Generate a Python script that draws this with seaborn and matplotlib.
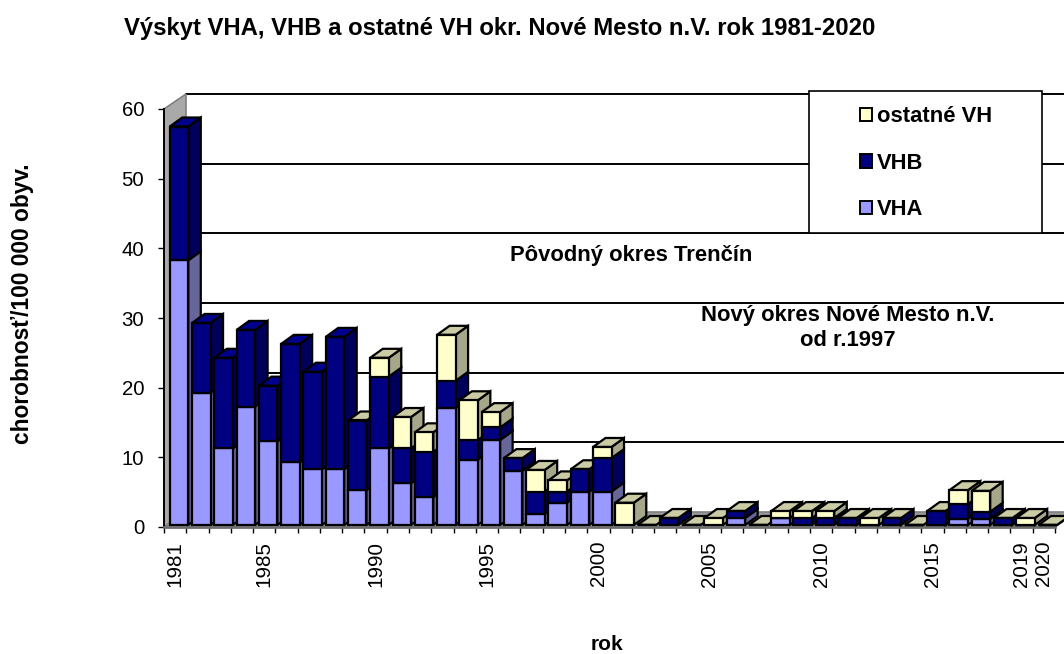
import numpy as np
import matplotlib
matplotlib.use("Agg")
import matplotlib.pyplot as plt
import seaborn as sns
from matplotlib.patches import Polygon, Rectangle

years = list(range(1981, 2021))
vha = [38, 19, 11, 17, 12, 9, 8, 8, 5, 11, 6, 4, 16.8, 9.4, 12.2, 7.8, 1.6, 3.2, 4.8, 4.8,
       0, 0, 0, 0, 0, 1, 0, 1, 0, 0, 0, 0, 0, 0, 0, 0.9, 0.9, 0, 0, 0]
vhb = [19.2, 10, 13, 11, 8, 17, 14, 19, 10, 10.3, 5, 6.5, 3.9, 2.8, 1.8, 1.8, 3.2, 1.6, 3.2, 4.8,
       0, 0, 1, 0, 0, 1, 0, 0, 1, 1, 1, 0, 1, 0, 2, 2.1, 1, 1, 0, 0]
# nan = blank in the source table (top face stays navy)
ostatne = [np.nan] * 8 + [0, 2.7, 4.5, 2.8, 6.6, 5.7, 2.2, 0, 3.1, 1.6, 0, 1.6,
           3.2, 0, 0, 0, 1, 0, 0, 1, 1, 1, 0, 1, 0, 0, 0, 2, 3, 0, 1, 0]
tick_years = [1981, 1985, 1990, 1995, 2000, 2005, 2010, 2015, 2019, 2020]

front_colors = ["#9999FF", "#000080", "#FFFFCC"]
side_colors = ["#666699", "#00005A", "#A6A68A"]
top_navy = "#00008C"
top_khaki = "#CBCBA6"
names = ["VHA", "VHB", "ostatné VH"]

FONT = "Liberation Sans"
W, H = 1064, 654
X0, X1, Y0, Y60 = 164, 1055, 527, 109  # axes box in pixels

sns.set_theme(style="white")
plt.rcParams["font.family"] = [FONT, "DejaVu Sans"]

fig = plt.figure(figsize=(W / 100, H / 100), dpi=100)
ax = fig.add_axes([X0 / W, 1 - Y0 / H, (X1 - X0) / W, (Y0 - Y60) / H])

cat_px = (X1 - X0) / len(years)
val_px = (Y0 - Y60) / 60
wall_dx, wall_dy = 22 / cat_px, 15 / val_px
bar_dx, bar_dy = 12.5 / cat_px, 9 / val_px
shift_x, shift_y = 3.9 / cat_px, 2 / val_px

labels = [str(y) for y in years]
series = [np.array(vha, float), np.array(vhb, float), np.nan_to_num(np.array(ostatne, float))]
bottom = np.zeros(len(years))
for s, vals in enumerate(series):
    n_before = len(ax.patches)
    sns.barplot(x=labels, y=vals, bottom=bottom, color=front_colors[s], saturation=1,
                width=0.83, edgecolor="black", linewidth=1.6, ax=ax, zorder=5, clip_on=False)
    for i, p in enumerate(ax.patches[n_before:]):
        p.set_x(p.get_x() + shift_x)
        p.set_y(p.get_y() + shift_y)
        p.set_clip_on(False)
        p.set_zorder(10 + i + 0.5)
        x, y, w, h = p.get_x(), p.get_y(), p.get_width(), p.get_height()
        if h > 0:
            ax.add_patch(Polygon([(x + w, y), (x + w + bar_dx, y + bar_dy),
                                  (x + w + bar_dx, y + h + bar_dy), (x + w, y + h)],
                                 fc=side_colors[s], ec="black", lw=1.6, clip_on=False, zorder=10 + i + 0.2))
    bottom = bottom + vals

# top faces sit on the full stack
for i, total in enumerate(bottom):
    x = i - 0.83 / 2 + shift_x
    y = total + shift_y
    w = 0.83
    top = top_navy if np.isnan(ostatne[i]) else top_khaki
    ax.add_patch(Polygon([(x, y), (x + w, y), (x + w + bar_dx, y + bar_dy), (x + bar_dx, y + bar_dy)],
                         fc=top, ec="black", lw=1.6, clip_on=False, zorder=10 + i + 0.3))

ax.set_xlim(-0.5, len(years) - 0.5)
ax.set_ylim(0, 60)

# back wall grid, left wall, floor
left, right = -0.5, len(years) - 0.5
for v in range(10, 70, 10):
    ax.plot([left + wall_dx, right + wall_dx], [v + wall_dy, v + wall_dy], color="black", lw=1.4,
            clip_on=False, zorder=1)
ax.add_patch(Polygon([(left, 0), (left + wall_dx, wall_dy), (left + wall_dx, 60 + wall_dy), (left, 60)],
                     fc="#A9A9A9", ec="#808080", lw=1.2, clip_on=False, zorder=2))
ax.add_patch(Polygon([(left, 0), (right, 0), (right + wall_dx, wall_dy), (left + wall_dx, wall_dy)],
                     fc="#9A9A9A", ec="#808080", lw=1.2, clip_on=False, zorder=2))

ax.set_xticks(np.arange(len(years) + 1) - 0.5)
ax.set_xticklabels([])
ax.tick_params(axis="x", length=4, width=1, color="black", bottom=True)
for y in tick_years:
    ax.text(years.index(y), -2.0, str(y), rotation=90, ha="center", va="top", fontsize=14.9, color="black")
ax.set_yticks(range(0, 70, 10))
ax.tick_params(axis="y", length=4.3, width=1, color="black", left=True, labelsize=14.7, pad=10, labelcolor="black")
sns.despine(ax=ax, top=True, right=True)
ax.spines["left"].set_color("black")
ax.spines["left"].set_linewidth(1.4)
ax.spines["bottom"].set_color("#6E6E6E")
ax.spines["bottom"].set_linewidth(2)
ax.spines["bottom"].set_zorder(40)
ax.patch.set_alpha(0)
ax.grid(False)

fig.text(124 / W, 1 - 29 / H, "Výskyt VHA, VHB a ostatné VH okr. Nové Mesto n.V. rok 1981-2020",
         fontsize=17.2, fontweight="bold", va="center", ha="left", color="black")
fig.text(23 / W, 1 - 304 / H, "chorobnosť/100 000 obyv.", rotation=90, fontsize=16.4, fontweight="bold",
         va="center", ha="center", color="black")
fig.text(607 / W, 1 - 644 / H, "rok", fontsize=15, fontweight="bold", va="center", ha="center", color="black")
fig.text(631 / W, 1 - 256 / H, "Pôvodný okres Trenčín", fontsize=15.8, fontweight="bold", va="center",
         ha="center", color="black", zorder=60)
fig.text(848 / W, 1 - 328 / H, "Nový okres Nové Mesto n.V.\nod r.1997", fontsize=15.8, fontweight="bold",
         va="center", ha="center", color="black", zorder=60, linespacing=1.3)

# legend box
fig.add_artist(Rectangle((809 / W, 1 - 233 / H), 233 / W, 142 / H, transform=fig.transFigure,
                         fc="white", ec="black", lw=1.2, zorder=50))
handles = [Rectangle((0, 0), 1, 1, fc=front_colors[s], ec="black", lw=1.4) for s in (2, 1, 0)]
leg = fig.legend(handles, [names[2], names[1], names[0]], loc="upper left",
                 bbox_to_anchor=(855 / W, 1 - 101 / H), frameon=False, labelcolor="black",
                 prop={"family": FONT, "weight": "bold", "size": 15.8},
                 handlelength=0.55, handleheight=0.55, handletextpad=0.22, labelspacing=1.17,
                 borderpad=0.23, borderaxespad=0)
leg.set_zorder(60)

fig.savefig("out.png", dpi=100)
